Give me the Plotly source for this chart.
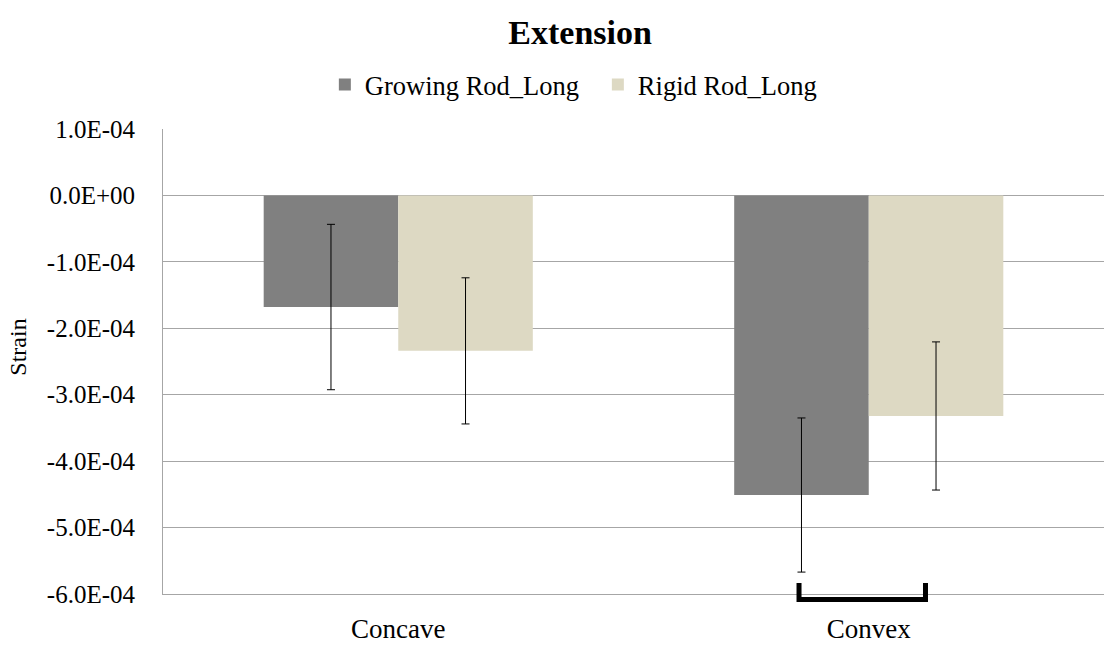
import plotly.graph_objects as go

# Mean strain per rod type and curvature side, with standard-deviation error bars
categories = ["Concave", "Convex"]
growing_mean = [-1.68e-4, -4.51e-4]
growing_err = [1.245e-4, 1.16e-4]
rigid_mean = [-2.34e-4, -3.32e-4]
rigid_err = [1.10e-4, 1.115e-4]
y_ticks = [1e-4, 0, -1e-4, -2e-4, -3e-4, -4e-4, -5e-4, -6e-4]
y_tick_text = ["1.0E-04", "0.0E+00", "-1.0E-04", "-2.0E-04", "-3.0E-04",
               "-4.0E-04", "-5.0E-04", "-6.0E-04"]

FONT = "Liberation Serif"
GRID = "#A6A6A6"

fig = go.Figure()
fig.add_trace(go.Bar(
    name="Growing Rod_Long", x=categories, y=growing_mean,
    marker=dict(color="#808080", line=dict(width=0)),
    error_y=dict(type="data", array=growing_err, visible=True,
                 color="black", thickness=1, width=4),
))
fig.add_trace(go.Bar(
    name="Rigid Rod_Long", x=categories, y=rigid_mean,
    marker=dict(color="#DDD9C3", line=dict(width=0)),
    error_y=dict(type="data", array=rigid_err, visible=True,
                 color="black", thickness=1, width=4),
))

# Significance bracket under the Convex group
fig.add_shape(
    type="path", xref="paper", yref="paper",
    path="M 0.6759,0.0237 L 0.6759,-0.0118 L 0.8103,-0.0118 L 0.8103,0.0237",
    line=dict(color="black", width=5),
)

# Y-axis caption placed left of the tick labels
fig.add_annotation(
    text="Strain", textangle=-90, showarrow=False,
    xref="paper", yref="paper", x=-0.1545, y=0.531,
    xanchor="center", yanchor="middle",
    font=dict(family=FONT, size=24, color="black"),
)

fig.update_layout(
    width=1105, height=653,
    margin=dict(l=163, r=1, t=129, b=59),
    paper_bgcolor="white", plot_bgcolor="white",
    font=dict(family=FONT, size=25, color="black"),
    barmode="group", bargap=0.428, bargroupgap=0,
    title=dict(text="<b>Extension</b>", font=dict(family=FONT, size=34, color="black"),
               x=0.525, xanchor="center", xref="container",
               y=1 - 32 / 653, yanchor="middle", yref="container"),
    legend=dict(orientation="h", x=0.172, xanchor="left", y=1.095, yanchor="middle",
                font=dict(family=FONT, size=26.5), entrywidth=228,
                bgcolor="rgba(0,0,0,0)"),
    showlegend=True,
)
fig.update_yaxes(
    range=[-6e-4, 1e-4], tickvals=y_ticks, ticktext=y_tick_text,
    showgrid=True, gridcolor=GRID, gridwidth=1,
    zeroline=False, showline=True, linecolor=GRID, linewidth=1,
    ticks="", ticklabelstandoff=22,
)
fig.update_xaxes(
    showgrid=False, zeroline=False, showline=True, linecolor=GRID, linewidth=1,
    ticks="", ticklabelstandoff=11, tickfont=dict(family=FONT, size=27),
)

fig.write_html("out.html")
